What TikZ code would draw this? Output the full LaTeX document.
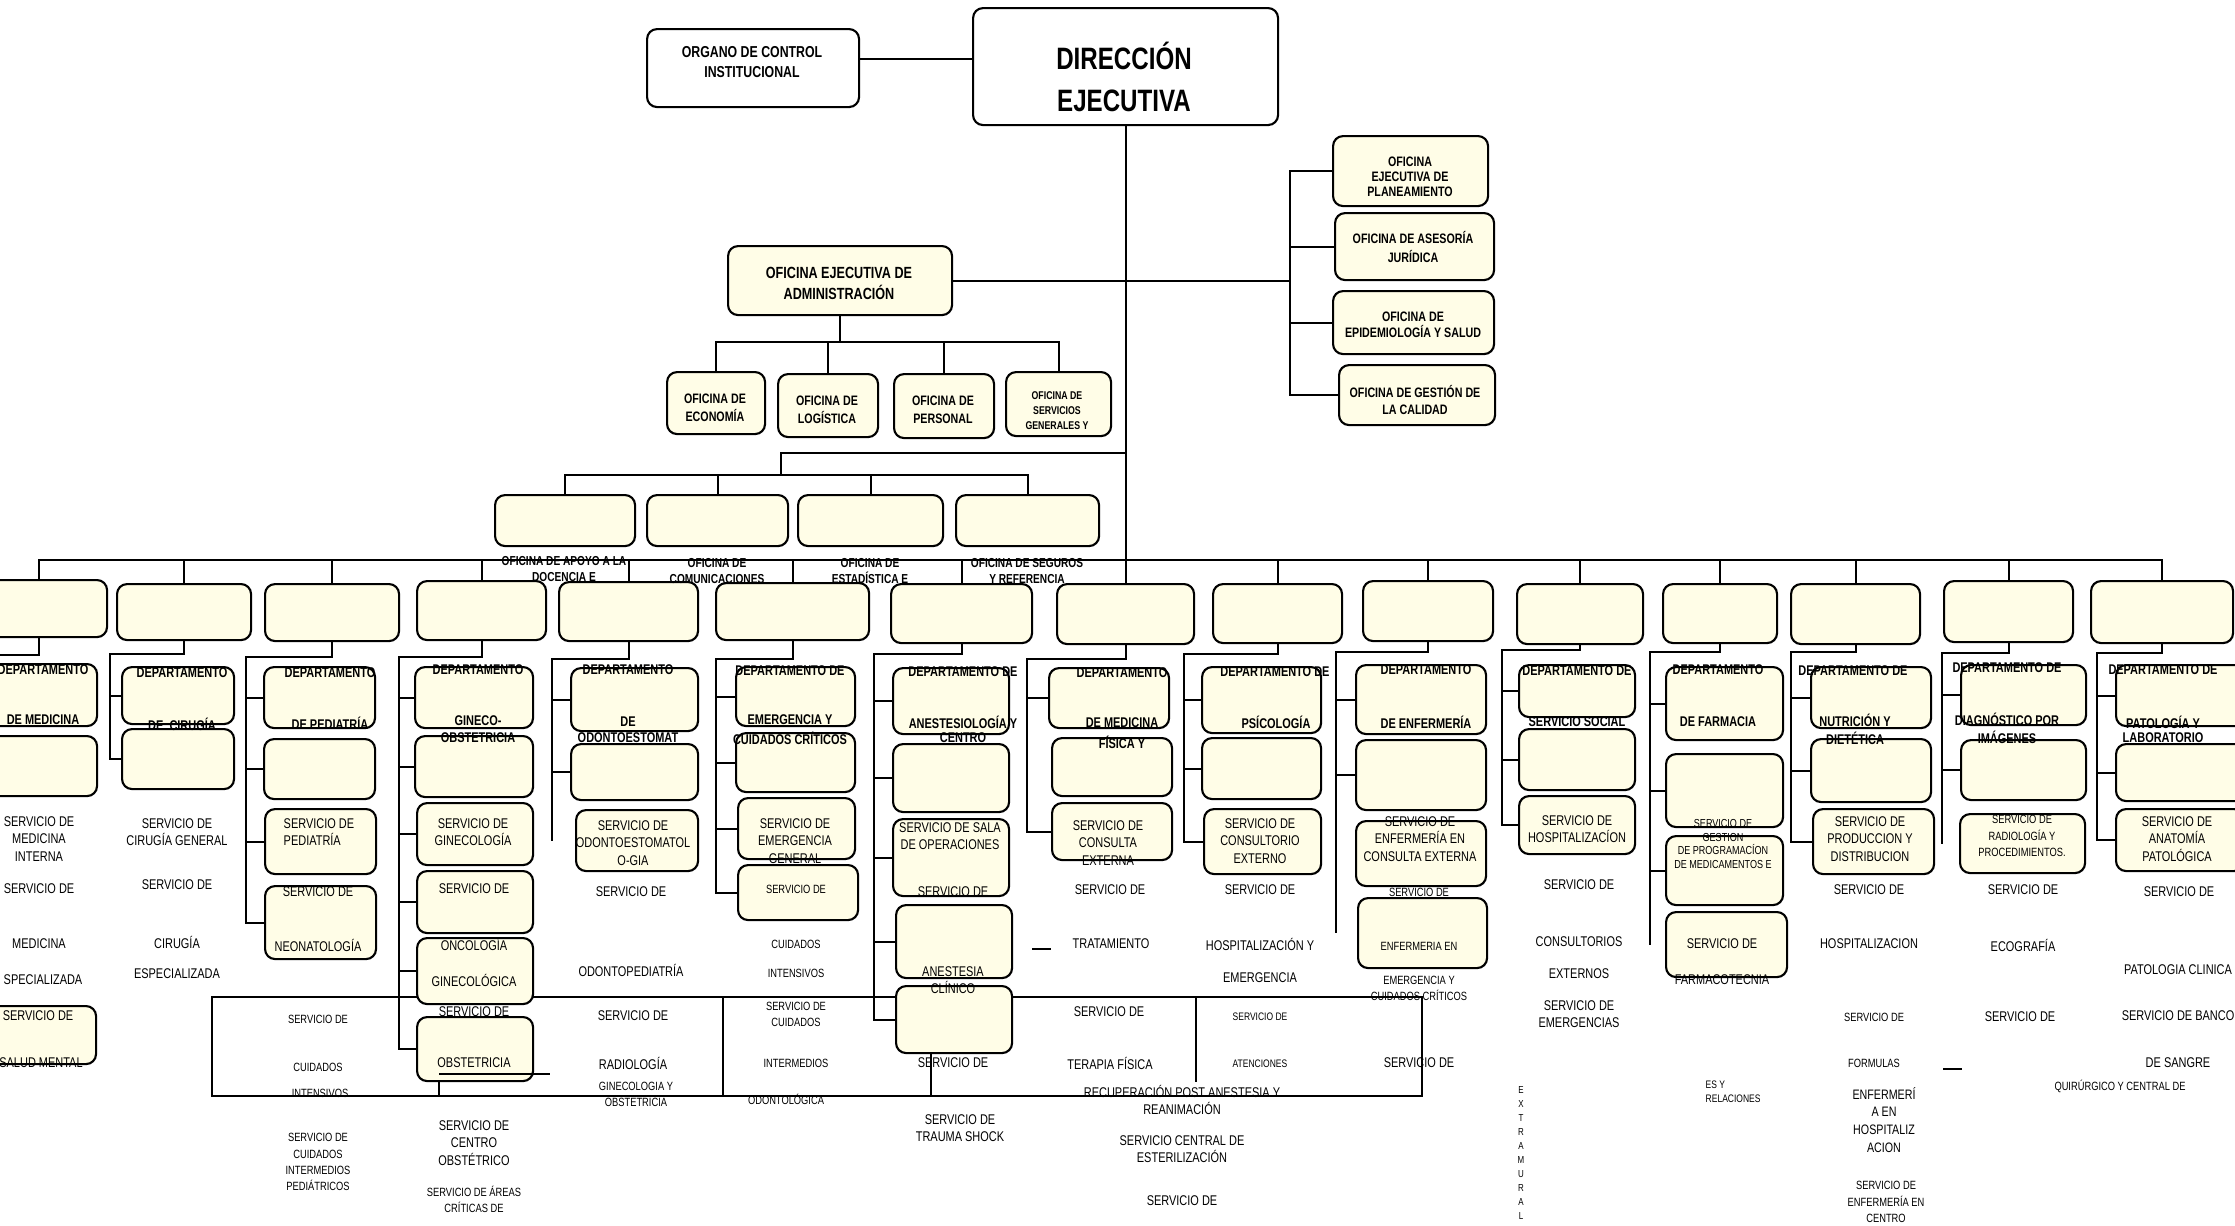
\documentclass[tikz,border=0pt]{standalone}
\usepackage{fontspec}
\setmainfont{Liberation Sans}[FakeStretch=0.78]
\definecolor{cream}{RGB}{255,253,231}
\tikzset{
	ln/.style={line width=0.6pt},
	box/.style={draw, line width=0.6pt, rounded corners=1mm, fill=cream, inner sep=0pt, anchor=north west},
	wbox/.style={box, fill=white},
	sz/.style 2 args={minimum width=#1*0.1mm, minimum height=#2*0.1mm},
	txt/.style={font=\fontsize{4}{4.9}\selectfont, align=center, inner sep=0pt},
	stxt/.style={font=\fontsize{3.4}{4.6}\selectfont, align=center, inner sep=0pt},
	ttxt/.style={font=\fontsize{3.1}{4.1}\selectfont, align=center, inner sep=0pt},
	hdr/.style={font=\bfseries\fontsize{4}{4.9}\selectfont, align=center, inner sep=0pt},
}
\begin{document}
\begin{tikzpicture}[x=0.1mm,y=-0.1mm]
		\useasboundingbox (0,0) rectangle (2235,1225);
		
		% the lower frame
		\draw[line width=0.45pt] (212,997) rectangle (1422,1096);
		\draw[line width=0.45pt] (723,997) -- (723,1096);
		\draw[line width=0.45pt] (1196,997) -- (1196,1082);
		\draw[line width=0.45pt] (931,1052) -- (931,1096);
		\draw[line width=0.45pt] (439,1080) -- (439,1096);
		
		%
		\coordinate (oj) at (858,59);
		\coordinate (rj) at (1290,281);
		\coordinate (ab) at (849,342);
		\coordinate (sk) at (781,453);
		\coordinate (sb) at (781,475);
		\coordinate (bus) at (0,560);
		
		% L,T,W,H
		\node[wbox, sz={212}{78}] (oci) at (646,28) {};
		\node[wbox, sz={305}{117}] (dir) at (972,7) {};
		\node[box, sz={224}{69}] (oea) at (727,245) {};
		\node[box, sz={155}{70}] (plan) at (1332,135) {};
		\node[box, sz={159}{67}] (ases) at (1334,212) {};
		\node[box, sz={161}{63}] (epi) at (1332,290) {};
		\node[box, sz={156}{60}] (cal) at (1338,364) {};
		\node[box, sz={98}{62}] (eco) at (666,371) {};
		\node[box, sz={100}{63}] (log) at (777,373) {};
		\node[box, sz={100}{64}] (per) at (893,373) {};
		\node[box, sz={105}{64}] (sgen) at (1005,371) {};
		
		\node[box, sz={140}{51}] (ofa) at (494,494) {};
		\node[box, sz={141}{51}] (ofc) at (646,494) {};
		\node[box, sz={145}{51}] (ofe) at (797,494) {};
		\node[box, sz={143}{51}] (ofs) at (955,494) {};
		
		% departments
		\node[box, sz={136}{57}] (c1) at (-30,579) {};
		\node[box, sz={134}{56}] (c2) at (116,583) {};
		\node[box, sz={134}{57}] (c3) at (264,583) {};
		\node[box, sz={129}{59}] (c4) at (416,580) {};
		\node[box, sz={139}{59}] (c5) at (558,581) {};
		\node[box, sz={153}{57}] (c6) at (715,582) {};
		\node[box, sz={141}{59}] (c7) at (890,583) {};
		\node[box, sz={137}{60}] (c8) at (1056,583) {};
		\node[box, sz={129}{59}] (c9) at (1212,583) {};
		\node[box, sz={130}{60}] (c10) at (1362,580) {};
		\node[box, sz={126}{60}] (c11) at (1516,583) {};
		\node[box, sz={114}{59}] (c12) at (1662,583) {};
		\node[box, sz={129}{60}] (c13) at (1790,583) {};
		\node[box, sz={129}{61}] (c14) at (1943,580) {};
		\node[box, sz={142}{62}] (c15) at (2090,580) {};
		
		% services
		\node[box, sz={126}{62}] (s1a) at (-30,663) {};
		\node[box, sz={126}{60}] (s1b) at (-30,735) {};
		\node[box, sz={125}{58}] (s1c) at (-30,1005) {};
		\node[box, sz={112}{57}] (s2a) at (121,666) {};
		\node[box, sz={112}{60}] (s2b) at (121,728) {};
		\node[box, sz={111}{61}] (s3a) at (263,666) {};
		\node[box, sz={111}{60}] (s3b) at (263,738) {};
		\node[box, sz={111}{65}] (s3c) at (264,808) {};
		\node[box, sz={111}{73}] (s3d) at (264,885) {};
		\node[box, sz={118}{61}] (s4a) at (414,666) {};
		\node[box, sz={118}{61}] (s4b) at (414,735) {};
		\node[box, sz={116}{62}] (s4c) at (416,802) {};
		\node[box, sz={116}{62}] (s4d) at (416,870) {};
		\node[box, sz={116}{66}] (s4e) at (416,937) {};
		\node[box, sz={116}{64}] (s4f) at (416,1016) {};
		\node[box, sz={127}{63}] (s5a) at (570,667) {};
		\node[box, sz={127}{56}] (s5b) at (570,743) {};
		\node[box, sz={122}{61}] (s5c) at (575,809) {};
		\node[box, sz={119}{59}] (s6a) at (735,666) {};
		\node[box, sz={119}{59}] (s6b) at (735,732) {};
		\node[box, sz={117}{61}] (s6c) at (737,797) {};
		\node[box, sz={120}{55}] (s6d) at (737,864) {};
		\node[box, sz={116}{66}] (s7a) at (892,667) {};
		\node[box, sz={116}{68}] (s7b) at (892,743) {};
		\node[box, sz={116}{77}] (s7c) at (892,818) {};
		\node[box, sz={116}{73}] (s7d) at (895,904) {};
		\node[box, sz={116}{67}] (s7e) at (895,985) {};
		\node[box, sz={120}{60}] (s8a) at (1048,667) {};
		\node[box, sz={120}{58}] (s8b) at (1051,737) {};
		\node[box, sz={120}{57}] (s8c) at (1051,802) {};
		\node[box, sz={119}{66}] (s9a) at (1201,666) {};
		\node[box, sz={119}{61}] (s9b) at (1201,737) {};
		\node[box, sz={117}{65}] (s9c) at (1203,808) {};
		\node[box, sz={130}{69}] (s10a) at (1355,664) {};
		\node[box, sz={130}{70}] (s10b) at (1355,739) {};
		\node[box, sz={130}{65}] (s10c) at (1355,820) {};
		\node[box, sz={129}{70}] (s10d) at (1357,897) {};
		\node[box, sz={116}{52}] (s11a) at (1518,664) {};
		\node[box, sz={116}{61}] (s11b) at (1518,728) {};
		\node[box, sz={116}{58}] (s11c) at (1518,795) {};
		\node[box, sz={117}{73}] (s12a) at (1665,666) {};
		\node[box, sz={117}{73}] (s12b) at (1665,753) {};
		\node[box, sz={117}{69}] (s12c) at (1665,835) {};
		\node[box, sz={121}{65}] (s12d) at (1665,911) {};
		\node[box, sz={120}{61}] (s13a) at (1810,666) {};
		\node[box, sz={120}{63}] (s13b) at (1810,738) {};
		\node[box, sz={121}{65}] (s13c) at (1812,808) {};
		\node[box, sz={125}{60}] (s14a) at (1960,664) {};
		\node[box, sz={125}{60}] (s14b) at (1960,739) {};
		\node[box, sz={125}{59}] (s14c) at (1959,813) {};
		\node[box, sz={130}{61}] (s15a) at (2115,664) {};
		\node[box, sz={130}{57}] (s15b) at (2115,743) {};
		\node[box, sz={128}{62}] (s15c) at (2115,808) {};
		
		% connectors, top part
		\draw[ln] (oj) -- (oj -| dir.west);
		\draw[ln] (dir.south) -- (c8.north);
		\draw[ln] (oea.east) -- (oea.east -| rj);
		\draw[ln] (plan.west) -| (rj) |- (cal.west);
		\draw[ln] (ases.west) -- (ases.west -| rj);
		\draw[ln] (epi.west) -- (epi.west -| rj);
		\draw[ln] (oea.south) -- (oea.south |- ab);
		\draw[ln] (eco.north) |- (ab);
		\draw[ln] (sgen.north) |- (ab);
		\draw[ln] (log.north) -- (log.north |- ab);
		\draw[ln] (per.north) -- (per.north |- ab);
		\draw[ln] (sk -| dir.south) -- (sk) -- (sb);
		\draw[ln] (ofa.north) |- (sb);
		\draw[ln] (ofs.north) |- (sb);
		\draw[ln] (ofc.north) -- (ofc.north |- sb);
		\draw[ln] (ofe.north) -- (ofe.north |- sb);
		
		% the long bus
		\draw[ln] (c1.north) -- (c1.north |- bus) -- (c15.north |- bus) -- (c15.north);
		\draw[ln] (c2.north) -- (c2.north |- bus);
		\draw[ln] (c3.north) -- (c3.north |- bus);
		\draw[ln] (c4.north) -- (c4.north |- bus);
		\draw[ln] (c5.north) -- (c5.north |- bus);
		\draw[ln] (c6.north) -- (c6.north |- bus);
		\draw[ln] (c7.north) -- (c7.north |- bus);
		\draw[ln] (c9.north) -- (c9.north |- bus);
		\draw[ln] (c10.north) -- (c10.north |- bus);
		\draw[ln] (c11.north) -- (c11.north |- bus);
		\draw[ln] (c12.north) -- (c12.north |- bus);
		\draw[ln] (c13.north) -- (c13.north |- bus);
		\draw[ln] (c14.north) -- (c14.north |- bus);
		
		% brackets
		\coordinate (b1) at (-15,655);
		\coordinate (b2) at (110,654);
		\coordinate (b3) at (246,657);
		\coordinate (b4) at (399,657);
		\coordinate (b5) at (552,659);
		\coordinate (b6) at (716,659);
		\coordinate (b7) at (874,654);
		\coordinate (b8) at (1027,659);
		\coordinate (b9) at (1184,654);
		\coordinate (b10) at (1336,652);
		\coordinate (b11) at (1502,650);
		\coordinate (b12) at (1650,652);
		\coordinate (b13) at (1791,652);
		\coordinate (b14) at (1942,653);
		\coordinate (b15) at (2097,653);
		
		\draw[ln] (c1.south) |- (b1) |- (s1c.west);
		\draw[ln] (s1a.west) -- (s1a.west -| b1);
		\draw[ln] (s1b.west) -- (s1b.west -| b1);
		\draw[ln] (c2.south) |- (b2) |- (s2b.west);
		\draw[ln] (s2a.west) -- (s2a.west -| b2);
		\draw[ln] (c3.south) |- (b3) |- (s3d.west);
		\draw[ln] (s3a.west) -- (s3a.west -| b3);
		\draw[ln] (s3b.west) -- (s3b.west -| b3);
		\draw[ln] (s3c.west) -- (s3c.west -| b3);
		\draw[ln] (c4.south) |- (b4) |- (s4f.west);
		\draw[ln] (s4a.west) -- (s4a.west -| b4);
		\draw[ln] (s4b.west) -- (s4b.west -| b4);
		\draw[ln] (s4c.west) -- (s4c.west -| b4);
		\draw[ln] (s4d.west) -- (s4d.west -| b4);
		\draw[ln] (s4e.west) -- (s4e.west -| b4);
		\draw[ln] (c5.south) |- (b5) -- (b5 |- s5c.west);
		\draw[ln] (s5a.west) -- (s5a.west -| b5);
		\draw[ln] (s5b.west) -- (s5b.west -| b5);
		\draw[ln] (c6.south) |- (b6) |- (s6d.west);
		\draw[ln] (s6a.west) -- (s6a.west -| b6);
		\draw[ln] (s6b.west) -- (s6b.west -| b6);
		\draw[ln] (s6c.west) -- (s6c.west -| b6);
		\draw[ln] (c7.south) |- (b7) |- (s7e.west);
		\draw[ln] (s7a.west) -- (s7a.west -| b7);
		\draw[ln] (s7b.west) -- (s7b.west -| b7);
		\draw[ln] (s7c.west) -- (s7c.west -| b7);
		\draw[ln] (s7d.west) -- (s7d.west -| b7);
		\draw[ln] (c8.south) |- (b8) |- (s8c.west);
		\draw[ln] (s8a.west) -- (s8a.west -| b8);
		\draw[ln] (c9.south) |- (b9) |- (s9c.west);
		\draw[ln] (s9a.west) -- (s9a.west -| b9);
		\draw[ln] (s9b.west) -- (s9b.west -| b9);
		\draw[ln] (c10.south) |- (b10) -- (b10 |- s10d.west);
		\draw[ln] (s10a.west) -- (s10a.west -| b10);
		\draw[ln] (s10b.west) -- (s10b.west -| b10);
		\draw[ln] (c11.south) |- (b11) |- (s11c.west);
		\draw[ln] (s11a.west) -- (s11a.west -| b11);
		\draw[ln] (s11b.west) -- (s11b.west -| b11);
		\draw[ln] (c12.south) |- (b12) -- (b12 |- s12d.west);
		\draw[ln] (s12a.west) -- (s12a.west -| b12);
		\draw[ln] (s12b.west) -- (s12b.west -| b12);
		\draw[ln] (s12c.west) -- (s12c.west -| b12);
		\draw[ln] (c13.south) |- (b13) |- (s13c.west);
		\draw[ln] (s13a.west) -- (s13a.west -| b13);
		\draw[ln] (s13b.west) -- (s13b.west -| b13);
		\draw[ln] (c14.south) |- (b14) -- (b14 |- s14c.west);
		\draw[ln] (s14a.west) -- (s14a.west -| b14);
		\draw[ln] (s14b.west) -- (s14b.west -| b14);
		\draw[ln] (c15.south) |- (b15) |- (s15c.west);
		\draw[ln] (s15a.west) -- (s15a.west -| b15);
		\draw[ln] (s15b.west) -- (s15b.west -| b15);
		
		% stray marks
		\draw[ln] (1032,949) -- (1051,949);
		\draw[ln] (1943,1069) -- (1962,1069);
		\draw[line width=0.45pt] (439,1074) -- (550,1074);
		
		% texts of the upper boxes
		\node[hdr, font=\bfseries\fontsize{4.5}{5.7}\selectfont] (toci) at (752,62) {ORGANO DE CONTROL\\INSTITUCIONAL};
		\node[hdr, font=\bfseries\fontsize{8.8}{11.9}\selectfont] (tdir) at (1124,77) {DIRECCIÓN\\EJECUTIVA};
		\node[hdr, font=\bfseries\fontsize{4.6}{6}\selectfont] (toea) at (839,283) {OFICINA EJECUTIVA DE\\ADMINISTRACIÓN};
		\node[hdr, font=\bfseries\fontsize{3.9}{4.2}\selectfont] (tplan) at (1410,177) {OFICINA\\EJECUTIVA DE\\PLANEAMIENTO};
		\node[hdr, font=\bfseries\fontsize{3.9}{5.2}\selectfont] (tases) at (1413,247) {OFICINA DE ASESORÍA\\JURÍDICA};
		\node[hdr, font=\bfseries\fontsize{3.9}{4.6}\selectfont] (tepi) at (1413,325) {OFICINA DE\\EPIDEMIOLOGÍA Y SALUD};
		\node[hdr, font=\bfseries\fontsize{3.9}{4.6}\selectfont] (tcal) at (1415,400) {OFICINA DE GESTIÓN DE\\LA CALIDAD};
		\node[hdr, font=\bfseries\fontsize{3.9}{5.1}\selectfont] (teco) at (715,408) {OFICINA DE\\ECONOMÍA};
		\node[hdr, font=\bfseries\fontsize{3.9}{5.1}\selectfont] (tlog) at (827,410) {OFICINA DE\\LOGÍSTICA};
		\node[hdr, font=\bfseries\fontsize{3.9}{5.1}\selectfont] (tper) at (943,410) {OFICINA DE\\PERSONAL};
		\node[hdr, font=\bfseries\fontsize{3.2}{4.3}\selectfont] (tsgen) at (1057,411) {OFICINA DE\\SERVICIOS\\GENERALES Y};
		\node[hdr, font=\bfseries\fontsize{3.7}{4.6}\selectfont] (tofa) at (564,569) {OFICINA DE APOYO A LA\\DOCENCIA E};
		\node[hdr, font=\bfseries\fontsize{3.7}{4.6}\selectfont] (tofc) at (717,571) {OFICINA DE\\COMUNICACIONES};
		\node[hdr, font=\bfseries\fontsize{3.7}{4.6}\selectfont] (tofe) at (870,571) {OFICINA DE\\ESTADÍSTICA E};
		\node[hdr, font=\bfseries\fontsize{3.7}{4.6}\selectfont] (tofs) at (1027,571) {OFICINA DE SEGUROS\\Y REFERENCIA};
		
		% department headers
		\node[hdr] (h1a) at (43,670) {DEPARTAMENTO};
		\node[hdr] (h1b) at (43,720) {DE MEDICINA};
		\node[hdr] (h2a) at (182,673) {DEPARTAMENTO};
		\node[hdr] (h2b) at (182,724) {DE~ CIRUGÍA};
		\node[hdr] (h3a) at (330,673) {DEPARTAMENTO};
		\node[hdr] (h3b) at (330,723) {DE PEDIATRÍA};
		\node[hdr] (h4a) at (478,670) {DEPARTAMENTO};
		\node[hdr] (h4b) at (478,721) {GINECO-};
		\node[hdr] (h4c) at (478,738) {OBSTETRICIA};
		\node[hdr] (h5a) at (628,670) {DEPARTAMENTO};
		\node[hdr] (h5b) at (628,722) {DE};
		\node[hdr] (h5c) at (628,738) {ODONTOESTOMAT};
		\node[hdr] (h6a) at (790,671) {DEPARTAMENTO DE};
		\node[hdr] (h6b) at (790,720) {EMERGENCIA Y};
		\node[hdr] (h6c) at (790,738) {CUIDADOS CRÍTICOS};
		\node[hdr] (h7a) at (963,672) {DEPARTAMENTO DE};
		\node[hdr] (h7b) at (963,722) {ANESTESIOLOGÍA Y};
		\node[hdr] (h7c) at (963,738) {CENTRO};
		\node[hdr] (h8a) at (1122,673) {DEPARTAMENTO};
		\node[hdr] (h8b) at (1122,723) {DE MEDICINA};
		\node[hdr] (h8c) at (1122,742) {FÍSICA Y};
		\node[hdr] (h9a) at (1275,672) {DEPARTAMENTO DE};
		\node[hdr] (h9b) at (1276,722) {PSÍCOLOGÍA};
		\node[hdr] (h10a) at (1426,670) {DEPARTAMENTO};
		\node[hdr] (h10b) at (1426,722) {DE ENFERMERÍA};
		\node[hdr] (h11a) at (1577,671) {DEPARTAMENTO DE};
		\node[hdr] (h11b) at (1577,722) {SERVICIO SOCIAL};
		\node[hdr] (h12a) at (1718,670) {DEPARTAMENTO};
		\node[hdr] (h12b) at (1718,722) {DE FARMACIA};
		\node[hdr] (h13a) at (1853,671) {DEPARTAMENTO DE};
		\node[hdr] (h13b) at (1855,720) {NUTRICIÓN Y};
		\node[hdr] (h13c) at (1855,738) {DIETÉTICA};
		\node[hdr] (h14a) at (2007,668) {DEPARTAMENTO DE};
		\node[hdr] (h14b) at (2007,719) {DIAGNÓSTICO POR};
		\node[hdr] (h14c) at (2007,737) {IMÁGENES};
		\node[hdr] (h15a) at (2163,670) {DEPARTAMENTO DE};
		\node[hdr] (h15b) at (2163,722) {PATOLOGÍA Y};
		\node[hdr] (h15c) at (2163,738) {LABORATORIO};
		
		% service texts
		\node[txt] (v1a) at (39,839) {SERVICIO DE\\MEDICINA\\INTERNA};
		\node[txt] (v1b) at (39,889) {SERVICIO DE};
		\node[txt] (v1c) at (39,944) {MEDICINA};
		\node[txt] (v1d) at (43,980) {SPECIALIZADA};
		\node[txt] (v1e) at (38,1016) {SERVICIO DE};
		\node[txt] (v1f) at (41,1063) {SALUD MENTAL};
		
		\node[txt] (v2a) at (177,832) {SERVICIO DE\\CIRUGÍA GENERAL};
		\node[txt] (v2b) at (177,885) {SERVICIO DE};
		\node[txt] (v2c) at (177,942) {CIRUGÍA};
		\node[txt] (v2d) at (177,974) {ESPECIALIZADA};
		
		\node[txt, align=left, anchor=west] (v3a) at (283,832) {SERVICIO DE\\PEDIATRÍA};
		\node[txt] (v3b) at (318,892) {SERVICIO DE};
		\node[txt] (v3c) at (318,945) {NEONATOLOGÍA};
		\node[stxt] (v3d) at (318,1019) {SERVICIO DE};
		\node[stxt] (v3e) at (318,1067) {CUIDADOS};
		\node[stxt] (v3f) at (320,1093) {INTENSIVOS};
		\node[stxt] (v3g) at (318,1162) {SERVICIO DE\\CUIDADOS\\INTERMEDIOS\\PEDIÁTRICOS};
		
		\node[txt] (v4a) at (473,832) {SERVICIO DE\\GINECOLOGÍA};
		\node[txt] (v4b) at (474,889) {SERVICIO DE};
		\node[txt] (v4c) at (474,944) {ONCOLOGÍA};
		\node[txt] (v4d) at (474,980) {GINECOLÓGICA};
		\node[txt] (v4e) at (474,1012) {SERVICIO DE};
		\node[txt] (v4f) at (474,1063) {OBSTETRICIA};
		\node[txt] (v4g) at (474,1143) {SERVICIO DE\\CENTRO\\OBSTÉTRICO};
		\node[stxt] (v4h) at (474,1199) {SERVICIO DE ÁREAS\\CRÍTICAS DE};
		
		\node[txt] (v5a) at (633,843) {SERVICIO DE\\ODONTOESTOMATOL\\O-GIA};
		\node[txt] (v5b) at (631,892) {SERVICIO DE};
		\node[txt] (v5c) at (631,970) {ODONTOPEDIATRÍA};
		\node[txt] (v5d) at (633,1016) {SERVICIO DE};
		\node[txt] (v5e) at (633,1063) {RADIOLOGÍA};
		\node[stxt] (v5f) at (636,1094) {GINECOLOGIA Y\\OBSTETRICIA};
		
		\node[txt] (v6a) at (795,841) {SERVICIO DE\\EMERGENCIA\\GENERAL};
		\node[stxt] (v6b) at (796,889) {SERVICIO DE};
		\node[stxt] (v6c) at (796,944) {CUIDADOS};
		\node[stxt] (v6d) at (796,973) {INTENSIVOS};
		\node[stxt] (v6e) at (796,1014) {SERVICIO DE\\CUIDADOS};
		\node[stxt] (v6f) at (796,1063) {INTERMEDIOS};
		\node[stxt] (v6g) at (786,1099) {ODONTOLÓGICA};
		
		\node[txt] (v7a) at (950,836) {SERVICIO DE SALA\\DE OPERACIONES};
		\node[txt] (v7b) at (953,892) {SERVICIO DE};
		\node[txt] (v7c) at (953,980) {ANESTESIA\\CLÍNICO};
		\node[txt] (v7d) at (953,1063) {SERVICIO DE};
		\node[txt] (v7e) at (960,1128) {SERVICIO DE\\TRAUMA SHOCK};
		
		\node[txt] (v8a) at (1108,843) {SERVICIO DE\\CONSULTA\\EXTERNA};
		\node[txt] (v8b) at (1110,890) {SERVICIO DE};
		\node[txt] (v8c) at (1111,944) {TRATAMIENTO};
		\node[txt] (v8d) at (1109,1012) {SERVICIO DE};
		\node[txt] (v8e) at (1110,1063) {TERAPIA FÍSICA};
		\node[txt] (v8f) at (1182,1100) {RECUPERACIÓN POST ANESTESIA Y\\REANIMACIÓN};
		\node[txt] (v8g) at (1182,1149) {SERVICIO CENTRAL DE\\ESTERILIZACIÓN};
		\node[txt] (v8h) at (1182,1201) {SERVICIO DE};
		
		\node[txt] (v9a) at (1260,841) {SERVICIO DE\\CONSULTORIO\\EXTERNO};
		\node[txt] (v9b) at (1260,890) {SERVICIO DE};
		\node[txt] (v9c) at (1260,944) {HOSPITALIZACIÓN Y};
		\node[txt] (v9d) at (1260,978) {EMERGENCIA};
		\node[ttxt] (v9e) at (1260,1017) {SERVICIO DE};
		\node[ttxt] (v9f) at (1260,1064) {ATENCIONES};
		
		\node[txt] (v10a) at (1420,839) {SERVICIO DE\\ENFERMERÍA EN\\CONSULTA EXTERNA};
		\node[stxt] (v10b) at (1419,892) {SERVICIO DE};
		\node[stxt] (v10c) at (1419,946) {ENFERMERIA EN};
		\node[stxt] (v10d) at (1419,988) {EMERGENCIA Y\\CUIDADOS CRÍTICOS};
		\node[txt] (v10e) at (1419,1063) {SERVICIO DE};
		
		\node[txt] (v11a) at (1577,829) {SERVICIO DE\\HOSPITALIZACÍON};
		\node[txt] (v11b) at (1579,885) {SERVICIO DE};
		\node[txt] (v11c) at (1579,942) {CONSULTORIOS};
		\node[txt] (v11d) at (1579,974) {EXTERNOS};
		\node[txt] (v11e) at (1579,1014) {SERVICIO DE\\EMERGENCIAS};
		\node[ttxt, font=\fontsize{2.9}{4}\selectfont] (v11f) at (1521,1153) {E\\X\\T\\R\\A\\M\\U\\R\\A\\L};
		
		\node[stxt, font=\fontsize{3.3}{3.8}\selectfont] (v12a) at (1723,844) {SERVICIO DE\\GESTION\\DE PROGRAMACÍON\\DE MEDICAMENTOS E};
		\node[txt] (v12b) at (1722,944) {SERVICIO DE};
		\node[txt] (v12c) at (1722,980) {FARMACOTECNIA};
		\node[ttxt, align=left, anchor=west] (v12d) at (1705,1092) {ES Y\\RELACIONES};
		
		\node[txt] (v13a) at (1870,839) {SERVICIO DE\\PRODUCCION Y\\DISTRIBUCION};
		\node[txt] (v13b) at (1869,890) {SERVICIO DE};
		\node[txt] (v13c) at (1869,944) {HOSPITALIZACION};
		\node[stxt] (v13d) at (1874,1017) {SERVICIO DE};
		\node[stxt] (v13e) at (1874,1063) {FORMULAS};
		\node[txt, font=\fontsize{3.9}{5.1}\selectfont] (v13f) at (1884,1120) {ENFERMERÍ\\A EN\\HOSPITALIZ\\ACION};
		\node[stxt] (v13g) at (1886,1202) {SERVICIO DE\\ENFERMERÍA EN\\CENTRO};
		
		\node[stxt] (v14a) at (2022,836) {SERVICIO DE\\RADIOLOGÍA Y\\PROCEDIMIENTOS.};
		\node[txt] (v14b) at (2023,890) {SERVICIO DE};
		\node[txt] (v14c) at (2023,945) {ECOGRAFÍA};
		\node[txt] (v14d) at (2020,1017) {SERVICIO DE};
		
		\node[txt] (v15a) at (2177,839) {SERVICIO DE\\ANATOMÍA\\PATOLÓGICA};
		\node[txt] (v15b) at (2179,892) {SERVICIO DE};
		\node[txt] (v15c) at (2178,970) {PATOLOGIA CLINICA};
		\node[txt] (v15d) at (2178,1016) {SERVICIO DE BANCO};
		\node[txt] (v15e) at (2178,1063) {DE SANGRE};
		\node[stxt] (v15f) at (2120,1086) {QUIRÚRGICO Y CENTRAL DE};
		
\end{tikzpicture}
\end{document}
